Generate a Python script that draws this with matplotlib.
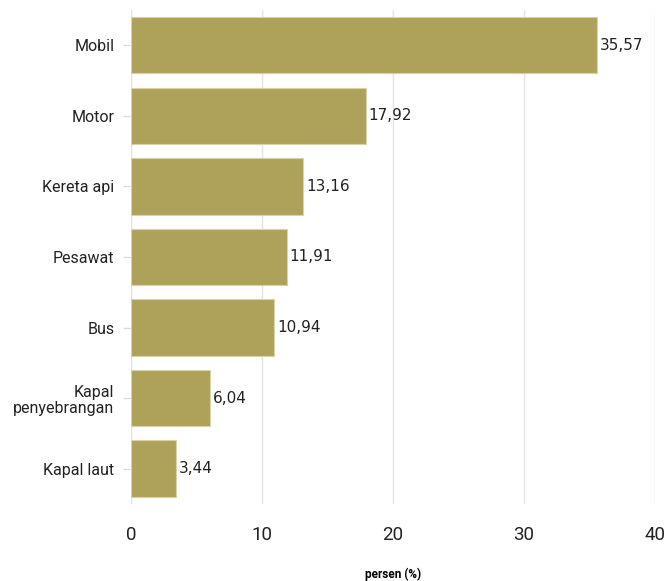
import matplotlib
matplotlib.use("Agg")
import matplotlib.pyplot as plt

categories = ["Mobil", "Motor", "Kereta api", "Pesawat", "Bus", "Kapal\npenyebrangan", "Kapal laut"]
values = [35.57, 17.92, 13.16, 11.91, 10.94, 6.04, 3.44]
value_labels = ["35,57", "17,92", "13,16", "11,91", "10,94", "6,04", "3,44"]
xticks = [0, 10, 20, 30, 40]

fig = plt.figure(figsize=(6.69, 5.81), dpi=100)
ax = fig.add_axes([0.1958, 0.1325, 0.7832, 0.8505])

y = list(range(len(categories)))
ax.barh(y, values, height=0.8, color="#aea25b", edgecolor="#d8d2a8", linewidth=0.8, zorder=3)
for yi, v, lab in zip(y, values, value_labels):
    ax.text(v + 0.2, yi, lab, va="center", ha="left", fontsize=11,
            family="DejaVu Sans", color="#222222", zorder=4)

ax.set_ylim(len(categories) - 0.5, -0.5)
ax.set_xlim(0, 40)
ax.set_yticks(y)
ax.set_yticklabels(categories, fontsize=11.5, family="Roboto", color="#222222", linespacing=1.1)
ax.set_xticks(xticks)
ax.set_xticklabels([str(t) for t in xticks], fontsize=13.5, family="Roboto", color="#222222")
ax.tick_params(axis="x", length=0, pad=16)
ax.tick_params(axis="y", length=6, color="#dddddd", width=1, pad=6)
for s in ax.spines.values():
    s.set_visible(False)
ax.grid(axis="x", color="#e3e3e3", linewidth=1, zorder=0)
ax.set_axisbelow(True)
ax.set_xlabel("persen (%)", fontsize=8.5, family="Roboto", fontweight="bold", labelpad=17)

fig.savefig("out.png", dpi=100, facecolor="white")
